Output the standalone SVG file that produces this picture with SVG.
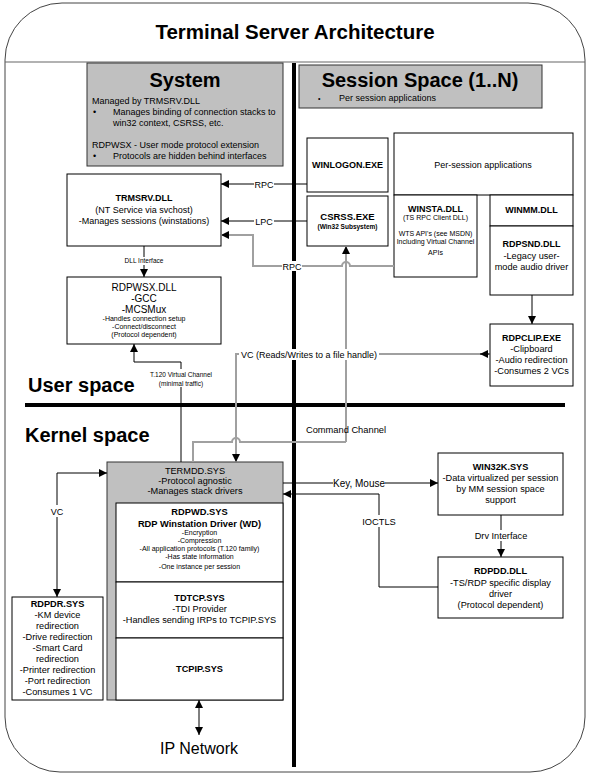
<svg xmlns="http://www.w3.org/2000/svg" width="591" height="777" viewBox="0 0 591 777">
<defs>
<style>
text{font-family:"Liberation Sans",Arial,sans-serif;fill:#000}
.c{text-anchor:middle}
.b{font-weight:bold}
.f9{font-size:9px}
.f10{font-size:9.2px}
.f7{font-size:7px}
.box{fill:#fff;stroke:#000;stroke-width:1}
.gbox{fill:#c0c0c0;stroke:#333;stroke-width:1}
.ln{fill:none;stroke:#000;stroke-width:1}
.gl{fill:none;stroke:#a0a0a0;stroke-width:2}
.lbl{fill:#fff}
</style>
<marker id="ah" viewBox="0 0 10 10" refX="10" refY="5" markerWidth="8" markerHeight="8" markerUnits="userSpaceOnUse" orient="auto-start-reverse">
<path d="M0,0 L10,5 L0,10 z" fill="#000"/>
</marker>
</defs>
<rect x="0" y="0" width="591" height="777" fill="#fff"/>
<g id="frame">
<path d="M5,60 A57,57 0 0 1 62,3 L528,3 A57,57 0 0 1 585,60 L585,717 A55,55 0 0 1 530,772 L60,772 A55,55 0 0 1 5,717 Z" fill="none" stroke="#444" stroke-width="1"/>
<line x1="5" y1="62" x2="585" y2="62" stroke="#666" stroke-width="1.2"/>
<text x="295" y="39" class="c b" font-size="20.5">Terminal Server Architecture</text>
<line x1="294" y1="63" x2="294" y2="767" stroke="#000" stroke-width="4"/>
<line x1="25" y1="405" x2="565" y2="405" stroke="#000" stroke-width="4"/>
<text x="28" y="392" class="b" font-size="20">User space</text>
<text x="25" y="442" class="b" font-size="20">Kernel space</text>
</g>
<g id="system">
<rect x="87" y="63" width="196" height="103" class="gbox"/>
<text x="185" y="87" class="c b" font-size="20">System</text>
<text x="92" y="104" class="f9">Managed by TRMSRV.DLL</text>
<text x="93" y="115" class="f9">•</text>
<text x="113" y="115" class="f9">Manages binding of connection stacks to</text>
<text x="113" y="126" class="f9">win32 context, CSRSS, etc.</text>
<text x="92" y="148" class="f9">RDPWSX - User mode protocol extension</text>
<text x="93" y="159" class="f9">•</text>
<text x="113" y="159" class="f9">Protocols are hidden behind interfaces</text>
</g>
<g id="session">
<rect x="299" y="65" width="243" height="43" class="gbox"/>
<text x="420" y="87" class="c b" font-size="20">Session Space (1..N)</text>
<text x="318" y="101" class="f7">•</text>
<text x="339" y="101" class="f9">Per session applications</text>
</g>
<g id="winlogon">
<rect x="307" y="138" width="81" height="54" class="box"/>
<text x="347.5" y="168" class="c b f9">WINLOGON.EXE</text>
</g>
<g id="perapps">
<rect x="394" y="133" width="179" height="62" class="box"/>
<text x="483" y="168" class="c f9">Per-session applications</text>
</g>
<g id="winsta">
<rect x="394" y="195" width="83" height="82" class="box"/>
<text x="435.5" y="212" class="c b f9">WINSTA.DLL</text>
<text x="435.5" y="220" class="c f7">(TS RPC Client DLL)</text>
<text x="435.5" y="236" class="c f7">WTS API's (see MSDN)</text>
<text x="435.5" y="244" class="c f7">Including Virtual Channel</text>
<text x="435.5" y="255" class="c f7">APIs</text>
</g>
<g id="winmm">
<rect x="490" y="195" width="83" height="31" class="box"/>
<text x="531.5" y="213" class="c b f9">WINMM.DLL</text>
</g>
<g id="rdpsnd">
<rect x="490" y="226" width="83" height="69" class="box"/>
<text x="531.5" y="247" class="c b f9">RDPSND.DLL</text>
<text x="531.5" y="259" class="c f10">-Legacy user-</text>
<text x="531.5" y="270" class="c f10">mode audio driver</text>
</g>
<g id="csrss">
<rect x="307" y="196" width="81" height="50" class="box"/>
<text x="347.5" y="220" class="c b" font-size="9.5">CSRSS.EXE</text>
<text x="347.5" y="229" class="c b" font-size="6.5">(Win32 Subsystem)</text>
</g>
<g id="rdpclip">
<rect x="490" y="324" width="83" height="62" class="box"/>
<text x="531.5" y="341" class="c b f9">RDPCLIP.EXE</text>
<text x="531.5" y="352" class="c f10">-Clipboard</text>
<text x="531.5" y="363" class="c f10">-Audio redirection</text>
<text x="531.5" y="374" class="c f10">-Consumes 2 VCs</text>
</g>
<g id="trmsrv">
<rect x="67" y="174" width="154" height="72" class="box"/>
<text x="144" y="201" class="c b f9">TRMSRV.DLL</text>
<text x="144" y="213" class="c f9">(NT Service via svchost)</text>
<text x="144" y="224" class="c f9">-Manages sessions (winstations)</text>
</g>
<g id="rdpwsx">
<rect x="67" y="277" width="154" height="67" class="box"/>
<text x="144" y="291" class="c" font-size="10">RDPWSX.DLL</text>
<text x="144" y="302" class="c" font-size="10">-GCC</text>
<text x="144" y="313" class="c" font-size="10">-MCSMux</text>
<text x="144" y="321" class="c f7">-Handles connection setup</text>
<text x="144" y="329" class="c f7">-Connect/disconnect</text>
<text x="144" y="337" class="c f7">(Protocol dependent)</text>
</g>
<g id="termdd">
<rect x="107" y="462" width="176" height="238" class="gbox"/>
<text x="195" y="474" class="c f10">TERMDD.SYS</text>
<text x="195" y="484" class="c f10">-Protocol agnostic</text>
<text x="195" y="494" class="c f10">-Manages stack drivers</text>
</g>
<g id="rdpwd">
<rect x="116" y="503" width="167" height="79" class="box"/>
<text x="199.5" y="515" class="c b" font-size="9.3">RDPWD.SYS</text>
<text x="199.5" y="527" class="c b" font-size="9.3">RDP Winstation Driver (WD)</text>
<text x="199.5" y="535" class="c f7">-Encryption</text>
<text x="199.5" y="543" class="c f7">-Compression</text>
<text x="199.5" y="551" class="c f7">-All application protocols (T.120 family)</text>
<text x="199.5" y="559" class="c f7">-Has state information</text>
<text x="199.5" y="569" class="c f7">-One instance per session</text>
</g>
<g id="tdtcp">
<rect x="116" y="582" width="167" height="56" class="box"/>
<text x="199.5" y="601" class="c b f10">TDTCP.SYS</text>
<text x="199.5" y="612" class="c f10">-TDI Provider</text>
<text x="199.5" y="623" class="c f10">-Handles sending IRPs to TCPIP.SYS</text>
</g>
<g id="tcpip">
<rect x="116" y="638" width="167" height="62" class="box"/>
<text x="199.5" y="672" class="c b f10">TCPIP.SYS</text>
</g>
<g id="rdpdr">
<rect x="12" y="597" width="91" height="103" class="box"/>
<text x="57.5" y="607" class="c b f10">RDPDR.SYS</text>
<text x="57.5" y="618" class="c f10">-KM device</text>
<text x="57.5" y="629" class="c f10">redirection</text>
<text x="57.5" y="640" class="c f10">-Drive redirection</text>
<text x="57.5" y="651" class="c f10">-Smart Card</text>
<text x="57.5" y="662" class="c f10">redirection</text>
<text x="57.5" y="673" class="c f10">-Printer redirection</text>
<text x="57.5" y="684" class="c f10">-Port redirection</text>
<text x="57.5" y="695" class="c f10">-Consumes 1 VC</text>
</g>
<g id="win32k">
<rect x="438" y="453" width="125" height="62" class="box"/>
<text x="500.5" y="470" class="c b f10">WIN32K.SYS</text>
<text x="500.5" y="481" class="c f10">-Data virtualized per session</text>
<text x="500.5" y="492" class="c f10">by MM session space</text>
<text x="500.5" y="503" class="c f10">support</text>
</g>
<g id="rdpdd">
<rect x="438" y="557" width="125" height="61" class="box"/>
<text x="500.5" y="574" class="c b f10">RDPDD.DLL</text>
<text x="500.5" y="586" class="c f10">-TS/RDP specific display</text>
<text x="500.5" y="597" class="c f10">driver</text>
<text x="500.5" y="608" class="c f10">(Protocol dependent)</text>
</g>
<g id="ipnet">
<text x="199" y="754" class="c" font-size="16">IP Network</text>
</g>
<g id="connectors">
<path d="M307,184 H221" class="ln" marker-end="url(#ah)"/>
<path d="M307,221 H221" class="ln" marker-end="url(#ah)"/>
<path d="M394,266 H350 A4,4 0 0 0 342,266 H253 V235 H221" class="gl" marker-end="url(#ah)"/>
<path d="M346,442 V246" class="gl" marker-end="url(#ah)"/>
<path d="M193,462 V442 H232 A4,4 0 0 1 240,442 H346" class="gl"/>
<path d="M490,354 H236 V462" class="gl" marker-end="url(#ah)"/>
<path d="M490,354 H480" class="ln" marker-end="url(#ah)"/>
<path d="M144,246 V277" class="ln" marker-end="url(#ah)"/>
<path d="M181,462 V362 H134 V344" class="ln" marker-end="url(#ah)"/>
<path d="M532,295 V324" class="ln" marker-end="url(#ah)"/>
<path d="M107,473 H57 V597" class="ln" marker-start="url(#ah)" marker-end="url(#ah)"/>
<path d="M283,483 H438" class="ln" marker-end="url(#ah)"/>
<path d="M438,587 H379 V494 H283" class="ln" marker-end="url(#ah)"/>
<path d="M501,515 V557" class="ln" marker-end="url(#ah)"/>
<path d="M199,700 V735" class="ln" marker-start="url(#ah)" marker-end="url(#ah)"/>
<rect x="254" y="179" width="20" height="10" class="lbl"/>
<text x="264" y="187.5" class="c f9">RPC</text>
<rect x="254" y="216" width="20" height="10" class="lbl"/>
<text x="264" y="224.5" class="c f9">LPC</text>
<rect x="282" y="261" width="20" height="10" class="lbl"/>
<text x="292" y="269.5" class="c f9">RPC</text>
<rect x="122" y="257" width="44" height="8" class="lbl"/>
<text x="144" y="263" class="c" font-size="6.5">DLL Interface</text>
<rect x="147" y="369" width="68" height="18" class="lbl"/>
<text x="181" y="377" class="c" font-size="6.5">T.120 Virtual Channel</text>
<text x="181" y="386" class="c" font-size="6.5">(minimal traffic)</text>
<rect x="239" y="349" width="140" height="11" class="lbl"/>
<text x="309" y="357.5" class="c" font-size="9">VC (Reads/Writes to a file handle)</text>
<text x="346" y="433" class="c" font-size="9.3">Command Channel</text>
<rect x="50" y="505" width="15" height="12" class="lbl"/>
<text x="57" y="514.5" class="c f9">VC</text>
<rect x="333" y="478" width="52" height="11" class="lbl"/>
<text x="359" y="486.5" class="c" font-size="10">Key, Mouse</text>
<rect x="362" y="515" width="34" height="12" class="lbl"/>
<text x="379" y="524.5" class="c" font-size="9.3">IOCTLS</text>
<rect x="474" y="530" width="54" height="11" class="lbl"/>
<text x="501" y="538.5" class="c" font-size="9.2">Drv Interface</text>
</g>
</svg>
